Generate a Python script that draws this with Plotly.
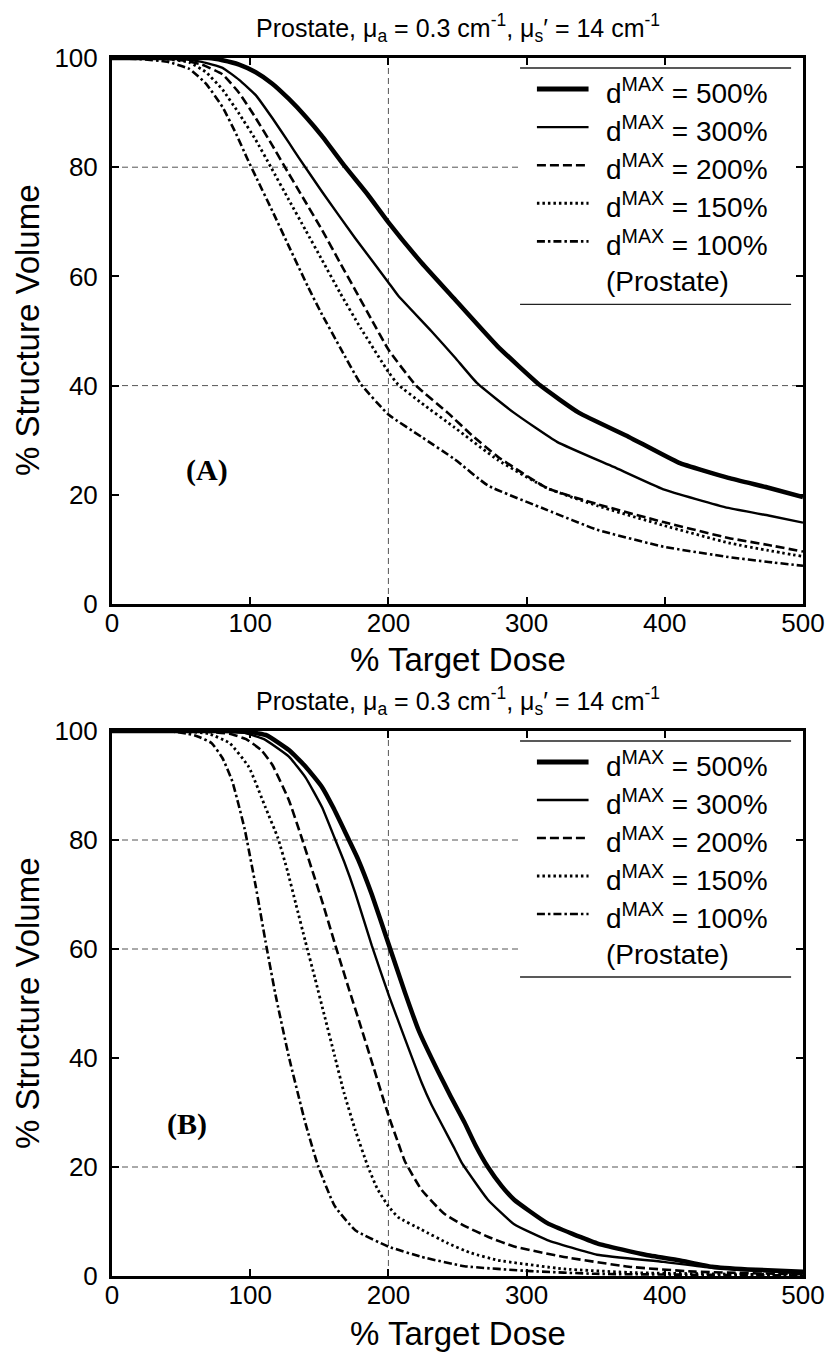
import plotly.graph_objects as go

# ---------------------------------------------------------------------------
# Cumulative dose-volume histograms for the prostate (% target dose vs
# % structure volume), one curve per d_MAX constraint.
# ---------------------------------------------------------------------------
DMAX_LEVELS = [500, 300, 200, 150, 100]

# Panel (A)
A_DOSE_500 = [0, 40, 70, 80, 92, 104, 116, 128, 140, 152, 169, 185, 200, 224, 248, 279, 310, 338, 374, 410, 446, 475, 500]
A_VOL_500 = [100, 100, 100, 99.6, 98.8, 97.4, 95.3, 92.5, 89.3, 85.7, 80, 75, 69.9, 62.5, 55.8, 47.2, 40, 35, 30.6, 25.9, 23.1, 21.3, 19.6]

A_DOSE_300 = [0, 30, 50, 65, 80, 92, 104, 116, 128, 135, 152, 176, 200, 207, 231, 248, 264, 291, 322, 363, 399, 446, 475, 500]
A_VOL_300 = [100, 100, 99.8, 99.3, 98.2, 96, 93.2, 89, 84.5, 81.8, 75.5, 67, 58.9, 56.5, 50, 45.2, 40.5, 35, 29.7, 25.1, 21, 17.6, 16.2, 14.9]

A_DOSE_200 = [0, 30, 50, 65, 80, 92, 104, 116, 124, 138, 152, 165, 176, 188, 200, 220, 243, 260, 279, 315, 351, 399, 446, 475, 500]
A_VOL_200 = [100, 100, 99.6, 98.8, 97, 93.6, 89, 84, 80.5, 74.5, 68.5, 62.5, 57.5, 52, 46.6, 40, 35, 31, 27, 21.2, 18.3, 15, 12.1, 10.8, 9.6]

A_DOSE_150 = [0, 25, 40, 56, 68, 80, 92, 104, 115, 128, 140, 152, 165, 180, 200, 207, 224, 248, 279, 315, 351, 399, 446, 475, 500]
A_VOL_150 = [100, 100, 99.8, 99.2, 97.4, 94.2, 89.8, 85, 80, 74, 68.5, 63, 57, 50.5, 42.5, 40.2, 36.8, 32.3, 26.4, 21.2, 18, 14.4, 11.2, 9.8, 8.7]

A_DOSE_100 = [0, 20, 40, 56, 68, 80, 90, 98, 104, 116, 128, 142, 152, 165, 180, 200, 224, 248, 272, 315, 351, 399, 446, 475, 500]
A_VOL_100 = [100, 99.8, 99.3, 98, 95.3, 91, 86, 81.5, 78.3, 72, 65.5, 58, 53, 47, 40.3, 34.7, 30.6, 26.5, 21.7, 17.2, 13.6, 10.5, 8.6, 7.7, 7]

# Panel (B)
B_DOSE_500 = [0, 80, 100, 112, 128, 140, 152, 160, 169, 178, 188, 200, 212, 222, 236, 245, 255, 263, 272, 282, 291, 315, 351, 386, 410, 434, 460, 500]
B_VOL_500 = [100, 100, 99.8, 99.2, 96.5, 93.5, 89.7, 86, 81.3, 76.5, 70, 61, 52, 45, 37.5, 33, 28.2, 24, 20, 16.5, 14, 9.7, 6, 3.9, 2.9, 1.7, 1.2, 0.8]

B_DOSE_300 = [0, 70, 95, 110, 128, 140, 152, 161, 168, 176, 188, 201, 212, 224, 231, 248, 253, 272, 291, 315, 351, 399, 434, 500]
B_VOL_300 = [100, 100, 99.7, 98.5, 95.3, 91.5, 86, 80.4, 76, 70.3, 60.6, 51, 43.5, 35.5, 31.5, 23.3, 20.8, 14, 9.5, 6.6, 3.9, 2.6, 1.5, 0.5]

B_DOSE_200 = [0, 60, 85, 97, 108, 116, 128, 137, 152, 161, 171, 180, 188, 200, 207, 212, 224, 240, 255, 272, 291, 327, 374, 422, 500]
B_VOL_200 = [100, 100, 99.5, 98.5, 96.5, 93.8, 87.3, 80.6, 68.8, 61.2, 53, 45.8, 39.3, 29.5, 24.5, 21, 15.8, 11.5, 9.2, 7.2, 5.4, 3.5, 1.7, 0.8, 0.3]

B_DOSE_150 = [0, 50, 70, 85, 99, 111, 120, 127, 133, 140, 147, 154, 161, 168, 176, 185, 192, 200, 207, 224, 243, 260, 279, 327, 380, 500]
B_VOL_150 = [100, 100, 99.5, 97.8, 93.4, 86, 80.4, 74.3, 68.3, 61.3, 54.5, 47.5, 40.5, 33.5, 26.8, 20.2, 16, 12.8, 10.8, 8.5, 6, 4.2, 2.9, 1.3, 0.6, 0.2]

B_DOSE_100 = [0, 40, 55, 62, 72, 80, 87, 96, 104, 111, 118, 128, 140, 149, 161, 176, 200, 224, 255, 303, 350, 500]
B_VOL_100 = [100, 100, 99.5, 99, 97.8, 95, 90.8, 82, 71.5, 61.5, 52, 40.2, 28, 20.3, 12.9, 8.4, 5.4, 3.5, 1.8, 0.9, 0.4, 0.1]

PANEL_A = [(A_DOSE_500, A_VOL_500), (A_DOSE_300, A_VOL_300), (A_DOSE_200, A_VOL_200),
           (A_DOSE_150, A_VOL_150), (A_DOSE_100, A_VOL_100)]
PANEL_B = [(B_DOSE_500, B_VOL_500), (B_DOSE_300, B_VOL_300), (B_DOSE_200, B_VOL_200),
           (B_DOSE_150, B_VOL_150), (B_DOSE_100, B_VOL_100)]

X_TICKS = [0, 100, 200, 300, 400, 500]
Y_TICKS = [0, 20, 40, 60, 80, 100]

# reference guide lines drawn in each panel
GUIDE_X = 200
GUIDE_Y_A = [40, 80]
GUIDE_Y_B = [20, 60, 80]

# ---------------------------------------------------------------------------
SANS = "Arial, Liberation Sans, Helvetica, sans-serif"
SERIF = "Times New Roman, Liberation Serif, serif"

# line style for each d_MAX level: (width, dash)
STYLES = {
    500: (4.5, "solid"),
    300: (2.4, "solid"),
    200: (2.6, "9px,4px"),
    150: (2.8, "2.5px,3px"),
    100: (2.6, "8px,3px,2.5px,3px"),
}

W, H = 837, 1355
ML, MR, MT, MB = 112, 29, 58, 79
PLOT_H = H - MT - MB          # 1218
PANEL_H = 545
PLOT_W = W - ML - MR          # 696

TITLE = "Prostate, \u03bc<sub>a</sub> = 0.3 cm<sup>-1</sup>, \u03bc<sub>s</sub>\u2032 = 14 cm<sup>-1</sup>"

fig = go.Figure()

panels = [("x", "y", PANEL_A), ("x2", "y2", PANEL_B)]
for xa, ya, curves in panels:
    for lvl, (dose, vol) in zip(DMAX_LEVELS, curves):
        w, d = STYLES[lvl]
        fig.add_trace(go.Scatter(
            x=dose, y=vol, xaxis=xa, yaxis=ya, mode="lines",
            line=dict(color="black", width=w, dash=d, shape="spline", smoothing=0.4),
            name=f"d_MAX = {lvl}%", showlegend=False, hoverinfo="skip"))

axis_common = dict(
    range=[0, 500], tickvals=X_TICKS, ticks="inside", ticklen=7, tickwidth=2,
    tickcolor="black", showline=True, linewidth=3, linecolor="black",
    mirror="ticks", showgrid=False, zeroline=False,
    tickfont=dict(family=SANS, size=26, color="black"),
)
yaxis_common = dict(axis_common)
yaxis_common.update(range=[0, 100], tickvals=Y_TICKS)

top_lo = (H - MB - 604) / PLOT_H   # bottom edge of panel A (paper)
bot_hi = (H - MB - 731) / PLOT_H   # top edge of panel B (paper)

fig.update_layout(
    width=W, height=H,
    margin=dict(l=ML, r=MR, t=MT, b=MB),
    paper_bgcolor="white", plot_bgcolor="white",
    xaxis=dict(axis_common, domain=[0, 1], anchor="y", ticklabelstandoff=-6),
    yaxis=dict(yaxis_common, domain=[top_lo, 1], anchor="x", ticklabelstandoff=6),
    xaxis2=dict(axis_common, domain=[0, 1], anchor="y2", ticklabelstandoff=-6),
    yaxis2=dict(yaxis_common, domain=[0, bot_hi], anchor="x2", ticklabelstandoff=6),
    showlegend=False,
)


def py_to_paper(py):
    return (H - MB - py) / PLOT_H


shapes = []
annotations = []

for (xa, ya, _), gy, top_px, letter, lab_xy in [
        (panels[0], GUIDE_Y_A, 58, "(A)", (0.138, 0.246)),
        (panels[1], GUIDE_Y_B, 731, "(B)", (0.109, 0.279))]:
    xd, yd = f"{xa} domain", f"{ya} domain"
    gd = dict(color="#555555", width=1, dash="6px,4px")
    # guide lines
    shapes.append(dict(type="line", xref=xa, yref=yd, x0=GUIDE_X, x1=GUIDE_X,
                       y0=0, y1=1, line=gd, layer="below"))
    for g in gy:
        shapes.append(dict(type="line", xref=xd, yref=ya, x0=0, x1=1,
                           y0=g, y1=g, line=gd, layer="below"))

    # legend box (white background, rules above and below)
    def dy(off):
        return 1 - off / PANEL_H
    lx0, lx1 = (523 - ML) / PLOT_W, (796 - ML) / PLOT_W
    shapes.append(dict(type="rect", xref=xd, yref=yd, x0=lx0, x1=0.995,
                       y0=dy(246), y1=dy(10), fillcolor="white",
                       line=dict(width=0), layer="below"))
    for off in (10, 246):
        shapes.append(dict(type="line", xref=xd, yref=yd, x0=lx0, x1=lx1,
                           y0=dy(off), y1=dy(off),
                           line=dict(color="#222222", width=1.3)))
    sx0, sx1, tx = (540 - ML) / PLOT_W, (592 - ML) / PLOT_W, (608 - ML) / PLOT_W
    sample_off = [31, 69, 107, 145, 183]
    text_off = [33, 71, 109, 147, 185]
    for lvl, so, to in zip(DMAX_LEVELS, sample_off, text_off):
        w, d = STYLES[lvl]
        shapes.append(dict(type="line", xref=xd, yref=yd, x0=sx0, x1=sx1,
                           y0=dy(so), y1=dy(so),
                           line=dict(color="black", width=w + 0.5 if lvl == 500 else w, dash=d)))
        annotations.append(dict(xref=xd, yref=yd, x=tx, y=dy(to),
                                xanchor="left", yanchor="middle", showarrow=False,
                                text=f"d<sup>MAX</sup> = {lvl}%",
                                font=dict(family=SANS, size=28, color="black")))
    annotations.append(dict(xref=xd, yref=yd, x=tx, y=dy(223),
                            xanchor="left", yanchor="middle", showarrow=False,
                            text="(Prostate)",
                            font=dict(family=SANS, size=28, color="black")))

    # panel letter
    annotations.append(dict(xref=xd, yref=yd, x=lab_xy[0], y=lab_xy[1],
                            xanchor="center", yanchor="middle", showarrow=False,
                            text=f"<b>{letter}</b>",
                            font=dict(family=SERIF, size=30, color="black")))

    # panel title
    annotations.append(dict(xref="paper", yref="paper", x=0.5, y=py_to_paper(top_px - 30),
                            xanchor="center", yanchor="middle", showarrow=False,
                            text=TITLE, font=dict(family=SANS, size=25, color="black")))
    # axis titles
    annotations.append(dict(xref="paper", yref="paper", x=0.5,
                            y=py_to_paper(top_px + PANEL_H + 57),
                            xanchor="center", yanchor="middle", showarrow=False,
                            text="% Target Dose",
                            font=dict(family=SANS, size=33, color="black")))
    annotations.append(dict(xref="paper", yref="paper", x=(27 - ML) / PLOT_W,
                            y=py_to_paper(top_px + PANEL_H / 2),
                            xanchor="center", yanchor="middle", showarrow=False,
                            textangle=-90, text="% Structure Volume",
                            font=dict(family=SANS, size=33, color="black")))

fig.update_layout(shapes=shapes, annotations=annotations)
fig.write_html("out.html")
